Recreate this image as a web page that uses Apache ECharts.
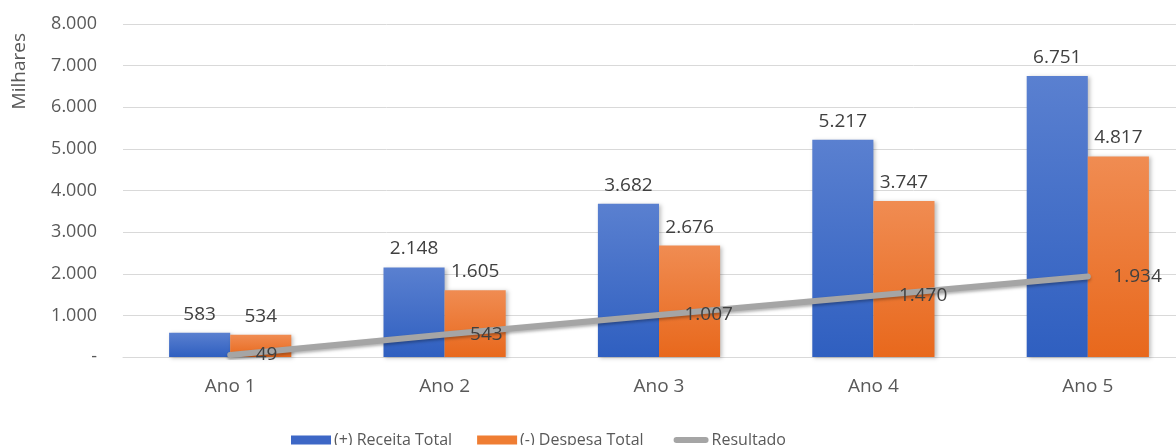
<!DOCTYPE html>
<html>
<head>
<meta charset="utf-8">
<script src="https://cdn.jsdelivr.net/npm/echarts@6/dist/echarts.min.js"></script>
<style>
  html, body { margin: 0; padding: 0; background: #fff; }
  #chart { width: 1176px; height: 445px; }
</style>
</head>
<body>
<div id="chart"></div>
<script>
// Values in thousands (Milhares)
const categories = ['Ano 1', 'Ano 2', 'Ano 3', 'Ano 4', 'Ano 5'];
const receitaTotal = [583, 2148, 3682, 5217, 6751];
const despesaTotal = [534, 1605, 2676, 3747, 4817];
const resultado = [49, 543, 1007, 1470, 1934];
const seriesNames = ['(+) Receita Total', '(-) Despesa Total', 'Resultado'];
const axisTitle = 'Milhares';

const FONT = '"Open Sans", "Noto Sans", sans-serif';

// Brazilian-style thousands separator; zero shown as a dash
function fmt(v) {
  if (v === 0) return '-';
  return String(v).replace(/\B(?=(\d{3})+(?!\d))/g, '.');
}

function grad(top, bottom) {
  return new echarts.graphic.LinearGradient(0, 0, 0, 1, [
    { offset: 0, color: top },
    { offset: 1, color: bottom }
  ]);
}

// Short rounded line icon for the Resultado legend entry; the leading
// moveTo points pad the icon box so the stroke sits at its right end.
const lineIcon = 'path://M0,0 M40,9 M8,1.5 L37,1.5 A3,3 0 0 1 37,7.5 L8,7.5 A3,3 0 0 1 8,1.5 Z';

const chart = echarts.init(document.getElementById('chart'), null, { renderer: 'canvas' });

const barLabel = {
  show: true,
  position: 'top',
  distance: 9,
  color: '#404040',
  fontSize: 19,
  fontFamily: FONT,
  formatter: p => fmt(p.value)
};

chart.setOption({
  animation: false,
  textStyle: { fontFamily: FONT },
  // plot area runs past the right edge of the canvas
  grid: { left: 123, width: 1072, top: 24, bottom: 88, containLabel: false, outerBoundsMode: 'none' },
  graphic: [{
    type: 'text',
    left: 10,
    top: 33,
    rotation: Math.PI / 2,
    style: {
      text: axisTitle,
      fill: '#595959',
      fontSize: 19,
      fontFamily: FONT
    }
  }],
  legend: {
    left: 286,
    top: 427,
    itemGap: 25,
    itemWidth: 40,
    itemHeight: 9,
    textStyle: { color: '#595959', fontSize: 16, fontFamily: FONT, padding: [0, 0, 0, -2] },
    data: [
      { name: seriesNames[0], icon: 'rect', itemStyle: { color: '#3d67c6' } },
      { name: seriesNames[1], icon: 'rect', itemStyle: { color: '#ef7d33' } },
      { name: seriesNames[2], icon: lineIcon, itemStyle: { color: '#a5a5a5' } }
    ]
  },
  xAxis: {
    type: 'category',
    data: categories,
    axisLine: { show: true, lineStyle: { color: '#d9d9d9', width: 1 } },
    axisTick: { show: false },
    axisLabel: { color: '#595959', fontSize: 19, fontFamily: FONT, margin: 20 }
  },
  yAxis: {
    type: 'value',
    min: 0,
    max: 8000,
    interval: 1000,
    axisLine: { show: false },
    axisTick: { show: false },
    splitLine: { lineStyle: { color: '#d9d9d9', width: 1 } },
    axisLabel: {
      color: '#595959', fontSize: 18, fontFamily: FONT, margin: 26,
      formatter: v => fmt(v)
    }
  },
  series: [
    {
      name: seriesNames[0],
      type: 'bar',
      data: receitaTotal,
      barGap: '0%',
      barCategoryGap: '43%',
      itemStyle: {
        color: grad('#5a80d0', '#2f5fc0'),
        shadowColor: 'rgba(0,0,0,0.25)',
        shadowBlur: 4,
        shadowOffsetX: 2,
        shadowOffsetY: 1
      },
      label: barLabel
    },
    {
      name: seriesNames[1],
      type: 'bar',
      data: despesaTotal,
      itemStyle: {
        color: grad('#f08c52', '#e8681c'),
        shadowColor: 'rgba(0,0,0,0.25)',
        shadowBlur: 4,
        shadowOffsetX: 2,
        shadowOffsetY: 1
      },
      label: barLabel
    },
    {
      name: seriesNames[2],
      type: 'line',
      data: resultado,
      z: 5,
      symbol: 'circle',
      symbolSize: 1,
      showSymbol: true,
      lineStyle: {
        color: '#a5a5a5',
        width: 6,
        cap: 'round',
        shadowColor: 'rgba(0,0,0,0.3)',
        shadowBlur: 3,
        shadowOffsetY: 2
      },
      itemStyle: { color: '#a5a5a5' },
      label: {
        show: true,
        position: 'right',
        distance: 25,
        color: '#404040',
        fontSize: 19,
        fontFamily: FONT,
        formatter: p => fmt(p.value)
      }
    }
  ]
});
</script>
</body>
</html>
